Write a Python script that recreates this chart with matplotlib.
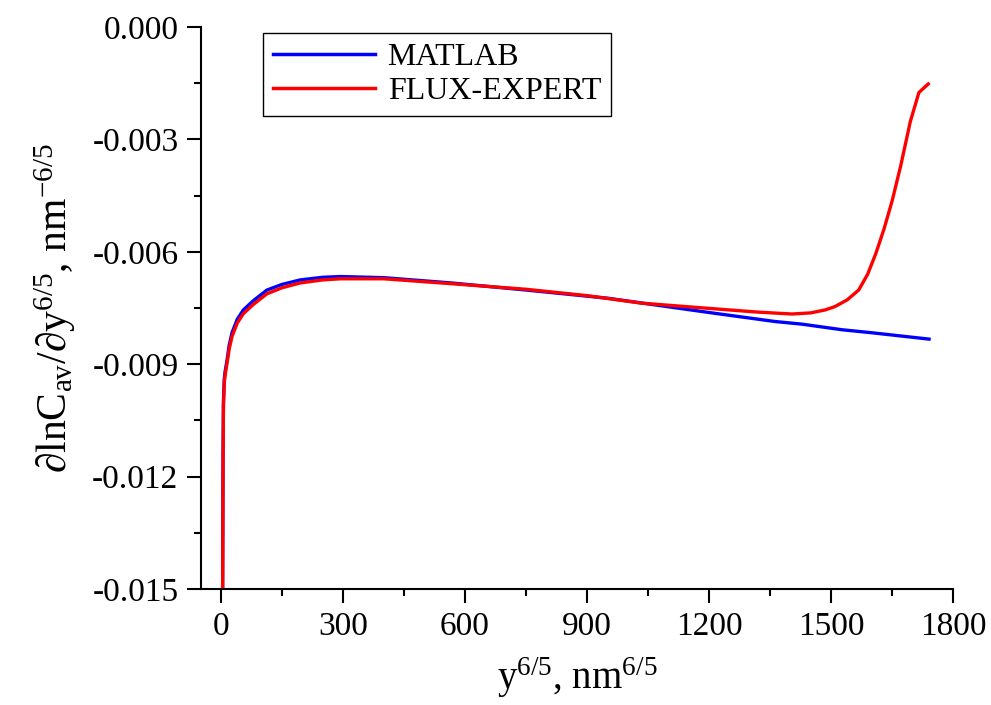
import numpy as np
import matplotlib
matplotlib.use("Agg")
import matplotlib.pyplot as plt
from matplotlib.ticker import MultipleLocator

plt.rcParams['font.family'] = ['Liberation Serif', 'DejaVu Serif']
plt.rcParams['mathtext.fontset'] = 'custom'
plt.rcParams['mathtext.rm'] = 'Liberation Serif'
plt.rcParams['mathtext.it'] = 'Liberation Serif:italic'

# values
matlab_x = [4, 5, 6, 8, 10, 15, 20, 27, 40, 55, 80, 113, 150, 195, 250, 294,
            400, 565, 750, 952, 1200, 1362, 1428, 1527, 1600, 1741]
matlab_y = [-0.0150, -0.0115, -0.0100, -0.0094, -0.0092, -0.00888, -0.0085,
            -0.00816, -0.0078, -0.00755, -0.0073, -0.00702, -0.00687,
            -0.00675, -0.00668, -0.00666, -0.00669, -0.00683, -0.00702,
            -0.00724, -0.00762, -0.00786, -0.00793, -0.00808, -0.00816,
            -0.00833]

flux_x = [4, 5, 6, 8, 10, 15, 20, 27, 40, 55, 80, 113, 150, 195, 250, 294,
          400, 565, 750, 900, 1034, 1200, 1321, 1404, 1450, 1486, 1510, 1540,
          1568, 1590, 1610, 1630, 1650, 1671, 1695, 1716, 1739]
flux_y = [-0.0150, -0.0116, -0.0101, -0.0095, -0.0093, -0.00896, -0.0086,
          -0.00826, -0.0079, -0.00765, -0.0074, -0.00712, -0.00696,
          -0.00683, -0.00675, -0.00672, -0.00672, -0.00685, -0.00700,
          -0.00717, -0.00737, -0.00751, -0.00761, -0.00766, -0.00763,
          -0.00755, -0.00746, -0.00728, -0.00702, -0.00660, -0.00605,
          -0.00540, -0.00465, -0.00372, -0.00252, -0.00175, -0.00152]

fig = plt.figure(figsize=(9.91, 7.05), dpi=100)
ax = fig.add_axes([0.2025, 0.1645, 0.7592, 0.7972])

ax.plot(matlab_x, matlab_y, color='#0000ff', lw=2.4, label='MATLAB')
ax.plot(flux_x, flux_y, color='#ff0000', lw=2.4, label='FLUX-EXPERT')

ax.set_xlim(-50, 1800)
ax.set_ylim(-0.015, 0.0)
ax.xaxis.set_major_locator(MultipleLocator(300))
ax.xaxis.set_minor_locator(MultipleLocator(150))
ax.yaxis.set_major_locator(MultipleLocator(0.003))
ax.yaxis.set_minor_locator(MultipleLocator(0.0015))
ax.yaxis.set_major_formatter(plt.FuncFormatter(lambda v, p: f"{v:.3f}"))

for s in ['top', 'right']:
    ax.spines[s].set_visible(False)
for s in ['left', 'bottom']:
    ax.spines[s].set_linewidth(1.5)

ax.tick_params(which='major', direction='out', length=10, width=1.5,
               labelsize=24, pad=6)
ax.tick_params(which='minor', direction='out', length=5, width=1.5)

ax.set_xlabel(r'y$^{6/5}$, nm$^{6/5}$', fontsize=28, labelpad=10)
ax.set_ylabel(r'$\partial$lnC$_{\mathrm{av}}$/$\partial$y$^{6/5}$, nm$^{-6/5}$',
              fontsize=30, labelpad=10)

leg = ax.legend(loc='upper left', bbox_to_anchor=(263 / 991, 1 - 33 / 705),
                bbox_transform=fig.transFigure, borderaxespad=0,
                fontsize=23, fancybox=False, edgecolor='black',
                framealpha=1, handlelength=3.2, handletextpad=0.4,
                borderpad=0.3, labelspacing=0.15)
leg.get_frame().set_linewidth(1.0)
for line in leg.get_lines():
    line.set_linewidth(2.5)

fig.savefig('out.png', dpi=100)
